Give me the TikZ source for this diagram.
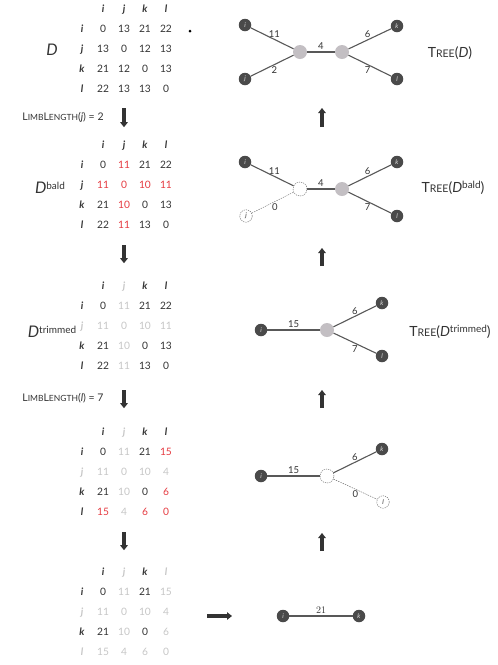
\documentclass[tikz,border=0pt]{standalone}
\usepackage{fontspec}
\usepackage{xcolor}
\usepackage{tikz}
\usetikzlibrary{arrows.meta,matrix}
\newfontfamily\gill{Lato}
\definecolor{ink}{HTML}{333333}
\definecolor{leafdark}{HTML}{4A4A4A}
\definecolor{hubgray}{HTML}{C3BFC3}
\definecolor{edgegray}{HTML}{585858}
\definecolor{hired}{HTML}{E53B41}
\definecolor{faded}{HTML}{C6C6C6}
\newcommand{\numsize}{\fontsize{10.2}{11}\selectfont}
\newcommand{\limb}{L{\fontsize{8.5}{9}\selectfont IMB}L{\fontsize{8.5}{9}\selectfont ENGTH}}
\newcommand{\treeop}{T{\fontsize{10.5}{11}\selectfont REE}}
\newcommand{\suplabel}[2]{\raisebox{#1}{\upshape\fontsize{10}{10}\selectfont #2}}
\tikzset{
  distmat/.style={matrix of nodes, inner sep=0pt, column sep=0pt, row sep=0pt,
    nodes={minimum width=21pt, minimum height=20pt, inner sep=0pt,
           text height=7pt, text depth=2pt, font=\gill\numsize, text=ink}},
  hd/.style={font=\gill\numsize\bfseries\itshape},
  hl/.style={text=hired},
  fd/.style={text=faded},
  fdhd/.style={hd, text=faded},
  leaf/.style={circle, fill=leafdark, text=white!80!leafdark, minimum size=12.5pt,
    inner sep=0pt, font=\gill\itshape\fontsize{6.5}{7}\selectfont},
  ghostleaf/.style={leaf, fill=white, text=ink, draw=edgegray, thin,
    dash pattern=on 1.2pt off 1pt},
  hub/.style={circle, fill=hubgray, minimum size=14pt, inner sep=0pt},
  ghosthub/.style={hub, fill=white, draw=edgegray, thin, dash pattern=on 1.2pt off 1pt},
  branch/.style={draw=edgegray, line width=1.1pt},
  ghostbranch/.style={draw=edgegray, thin, dash pattern=on 1.5pt off 1pt},
  wt/.style={font=\gill\fontsize{9.5}{10}\selectfont, text=ink, inner sep=1.5pt},
  treelabel/.style={font=\gill\fontsize{14}{16}\selectfont, text=ink},
  dlabel/.style={font=\gill\itshape\fontsize{16}{18}\selectfont, text=ink},
  limblabel/.style={font=\gill\fontsize{10.5}{12}\selectfont, text=ink},
  flow/.style={-{Triangle[length=5pt,width=7.5pt]}, line width=3.2pt, draw=ink}
}
\begin{document}
\begin{tikzpicture}[x=1pt, y=-1pt]
  \useasboundingbox (0,0) rectangle (498,665);

  \matrix (dist) [distmat] at (124,50) {
            & |[hd]| i & |[hd]| j & |[hd]| k & |[hd]| l \\
   |[hd]| i & 0  & 13 & 21 & 22 \\
   |[hd]| j & 13 & 0  & 12 & 13 \\
   |[hd]| k & 21 & 12 & 0  & 13 \\
   |[hd]| l & 22 & 13 & 13 & 0  \\
  };
  \matrix (bald) [distmat] at (124,186) {
            & |[hd]| i & |[hd]| j & |[hd]| k & |[hd]| l \\
   |[hd]| i & 0  & |[hl]| 11 & 21 & 22 \\
   |[hd]| j & |[hl]| 11 & |[hl]| 0 & |[hl]| 10 & |[hl]| 11 \\
   |[hd]| k & 21 & |[hl]| 10 & 0  & 13 \\
   |[hd]| l & 22 & |[hl]| 11 & 13 & 0  \\
  };
  \matrix (trim) [distmat] at (124,327) {
              & |[hd]| i & |[fdhd]| j & |[hd]| k & |[hd]| l \\
   |[hd]| i   & 0  & |[fd]| 11 & 21 & 22 \\
   |[fdhd]| j & |[fd]| 11 & |[fd]| 0 & |[fd]| 10 & |[fd]| 11 \\
   |[hd]| k   & 21 & |[fd]| 10 & 0  & 13 \\
   |[hd]| l   & 22 & |[fd]| 11 & 13 & 0  \\
  };
  \matrix (baldl) [distmat] at (124,473) {
              & |[hd]| i & |[fdhd]| j & |[hd]| k & |[hd]| l \\
   |[hd]| i   & 0  & |[fd]| 11 & 21 & |[hl]| 15 \\
   |[fdhd]| j & |[fd]| 11 & |[fd]| 0 & |[fd]| 10 & |[fd]| 4 \\
   |[hd]| k   & 21 & |[fd]| 10 & 0  & |[hl]| 6 \\
   |[hd]| l   & |[hl]| 15 & |[fd]| 4 & |[hl]| 6 & |[hl]| 0 \\
  };
  \matrix (last) [distmat] at (124,613) {
              & |[hd]| i & |[fdhd]| j & |[hd]| k & |[fdhd]| l \\
   |[hd]| i   & 0  & |[fd]| 11 & 21 & |[fd]| 15 \\
   |[fdhd]| j & |[fd]| 11 & |[fd]| 0 & |[fd]| 10 & |[fd]| 4 \\
   |[hd]| k   & 21 & |[fd]| 10 & 0  & |[fd]| 6 \\
   |[fdhd]| l & |[fd]| 15 & |[fd]| 4 & |[fd]| 6 & |[fd]| 0 \\
  };

  \node[dlabel] (dname) at (52,50) {D};
  \node[dlabel] (baldname) at (50,188) {D\suplabel{4.5pt}{bald}};
  \node[dlabel] (trimname) at (52,332) {D\suplabel{4.5pt}{trimmed}};
  \node[circle, fill=black, inner sep=0pt, minimum size=3pt] (stray) at (190,31) {};

  \node[limblabel] (limbj) at (63,117) {\limb(\textit{j}) = 2};
  \node[limblabel] (limbl) at (63,398) {\limb(\textit{l}) = 7};
  \draw[flow] ([yshift=-8pt]dist.south) -- ++(0,19);
  \draw[flow] ([yshift=-9pt]bald.south) -- ++(0,18);
  \draw[flow] ([yshift=-13pt]trim.south) -- ++(0,18);
  \draw[flow] ([yshift=-9pt]baldl.south) -- ++(0,18);

  \node[leaf] (i1) at (245,25) {i};
  \node[leaf] (j1) at (245,79) {j};
  \node[hub] (a1) at (300,52) {};
  \node[hub] (b1) at (342,52) {};
  \node[leaf] (k1) at (397,26) {k};
  \node[leaf] (l1) at (397,79) {l};
  \draw[branch] (i1) -- node[wt, above, pos=0.55] {11} (a1);
  \draw[branch] (j1) -- node[wt, below, pos=0.55] {2} (a1);
  \draw[branch] (a1) -- node[wt, above] {4} (b1);
  \draw[branch] (b1) -- node[wt, above, pos=0.45] {6} (k1);
  \draw[branch] (b1) -- node[wt, below, pos=0.45] {7} (l1);
  \node[treelabel] (tree1) at (450,53) {\treeop(\textit{D})};

  \node[leaf] (i2) at (245,162) {i};
  \node[ghostleaf] (j2) at (246,216) {j};
  \node[ghosthub] (a2) at (300,189) {};
  \node[hub] (b2) at (342,189) {};
  \node[leaf] (k2) at (397,162) {k};
  \node[leaf] (l2) at (397,216) {l};
  \draw[branch] (i2) -- node[wt, above, pos=0.55] {11} (a2);
  \draw[ghostbranch] (j2) -- node[wt, below, pos=0.55] {0} (a2);
  \draw[branch] (a2) -- node[wt, above] {4} (b2);
  \draw[branch] (b2) -- node[wt, above, pos=0.45] {6} (k2);
  \draw[branch] (b2) -- node[wt, below, pos=0.45] {7} (l2);
  \node[treelabel] (tree2) at (453,188) {\treeop(\textit{D}\suplabel{3.5pt}{bald})};

  \node[leaf] (i3) at (261,330) {i};
  \node[hub] (a3) at (327,330) {};
  \node[leaf] (k3) at (382,303) {k};
  \node[leaf] (l3) at (382,356) {l};
  \draw[branch] (i3) -- node[wt, above] {15} (a3);
  \draw[branch] (a3) -- node[wt, above] {6} (k3);
  \draw[branch] (a3) -- node[wt, below] {7} (l3);
  \node[treelabel] (tree3) at (450,332) {\treeop(\textit{D}\suplabel{3.5pt}{trimmed})};

  \node[leaf] (i4) at (261,476) {i};
  \node[ghosthub] (a4) at (327,476) {};
  \node[leaf] (k4) at (382,449) {k};
  \node[ghostleaf] (l4) at (383,502) {l};
  \draw[branch] (i4) -- node[wt, above] {15} (a4);
  \draw[branch] (a4) -- node[wt, above] {6} (k4);
  \draw[ghostbranch] (a4) -- node[wt, below] {0} (l4);

  \node[leaf] (i5) at (283,616) {i};
  \node[leaf] (k5) at (359,616) {k};
  \draw[branch] (i5) -- node[wt, above, font=\rmfamily\fontsize{10}{11}\selectfont] {21} (k5);

  \coordinate (up1) at (322,127);
  \coordinate (up2) at (322,266);
  \coordinate (up3) at (322,408);
  \coordinate (up4) at (322,551);
  \coordinate (right0) at (207,616);
  \draw[flow] (up1) -- ++(0,-19);
  \draw[flow] (up2) -- ++(0,-18);
  \draw[flow] (up3) -- ++(0,-18);
  \draw[flow] (up4) -- ++(0,-18);
  \draw[flow] (right0) -- ++(25,0);
\end{tikzpicture}
\end{document}
